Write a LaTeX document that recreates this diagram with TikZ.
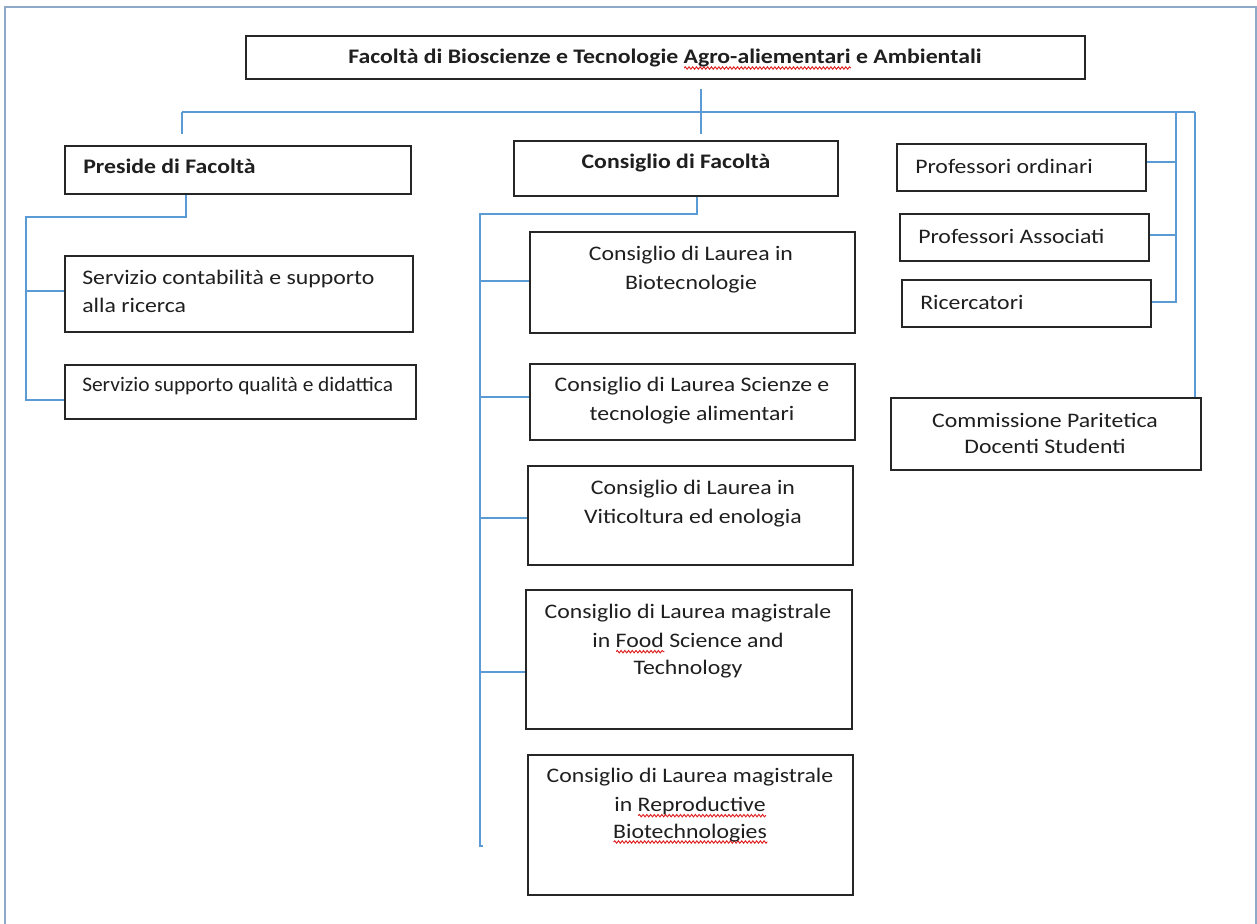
\documentclass[tikz,border=0pt]{standalone}
\usepackage{fontspec}
\setmainfont{Carlito}[FakeStretch=1.15]
\usetikzlibrary{calc,decorations.pathmorphing}

\definecolor{linkblue}{HTML}{5B9BD5}
\definecolor{framegray}{HTML}{8EA9C8}
\definecolor{boxline}{HTML}{262626}
\definecolor{spellred}{HTML}{E02020}

% red wavy underline under a word
\newsavebox\spellbox
\newlength\spellwd
\newcommand\spell[1]{%
  \sbox\spellbox{#1}\setlength\spellwd{\wd\spellbox}%
  \smash{\rlap{\tikz[baseline=0pt]\draw[spellred,line width=0.7pt,decorate,
      decoration={snake,amplitude=0.9pt,segment length=2.8pt}]
      (0pt,-3pt) -- (\spellwd,-3pt);}}%
  \usebox\spellbox}

\begin{document}
\begin{tikzpicture}[x=0.75pt,y=-0.75pt,
  box/.style 2 args={draw=boxline, line width=1.1pt, rectangle, inner sep=0pt,
    minimum width={#1*0.75pt}, minimum height={#2*0.75pt}},
  txt/.style={inner sep=0pt, text=black!88, font=\fontsize{15.5}{21.75}\selectfont},
  ctxt/.style={txt, anchor=base, align=center},
  ltxt/.style={txt, anchor=base west, align=left},
  conn/.style={draw=linkblue, line width=1.1pt},
  frame/.style={draw=framegray, line width=1.6pt}]

% page
\fill[white] (0,0) rectangle (1257,924);
\useasboundingbox (0,0) rectangle (1257,924);
\draw[frame] (5,924) -- (5,7) -- (1256,7) -- (1256,924);

% boxes
\node[box={839}{43}]  (top) at (665.5,57.5) {};
\node[box={346}{48}]  (pres) at (238,170) {};
\node[box={348}{76}]  (sv1) at (239,294) {};
\node[box={351}{54}]  (sv2) at (240.5,392) {};
\node[box={324}{55}]  (cdf) at (676,168.5) {};
\node[box={325}{101}] (c1) at (692.5,282.5) {};
\node[box={325}{76}]  (c2) at (692.5,402) {};
\node[box={325}{99}]  (c3) at (690.5,515.5) {};
\node[box={326}{139}] (c4) at (689,659.5) {};
\node[box={325}{140}] (c5) at (690.5,825) {};
\node[box={249}{47}]  (po) at (1021.5,167.5) {};
\node[box={249}{47}]  (pa) at (1024.5,237.5) {};
\node[box={249}{47}]  (ric) at (1026.5,303.5) {};
\node[box={310}{72}]  (com) at (1046,434) {};

% texts (multi-line texts are placed by the baseline of their last line)
\node[ctxt] (topT) at (665,64) {\bfseries Facoltà di Bioscienze e Tecnologie \spell{Agro-aliementari} e Ambientali};
\node[ltxt] (presT) at (83,173) {\bfseries Preside di Facoltà};
\node[ctxt] (cdfT) at (676,168) {\bfseries Consiglio di Facoltà};
\node[ltxt] (sv1T) at (82,312) {Servizio contabilità e supporto\\[-0.75pt]alla ricerca};
\node[ltxt] (sv2T) at (82,391) {\scalebox{0.9}[1]{Servizio supporto qualità e didattica}};
\node[ctxt] (c1T) at (691,289) {Consiglio di Laurea in\\Biotecnologie};
\node[ctxt] (c2T) at (692,420) {Consiglio di Laurea Scienze e\\tecnologie alimentari};
\node[ctxt] (c3T) at (693,523) {Consiglio di Laurea in\\Viticoltura ed enologia};
\node[ctxt] (c4T) at (688,674) {Consiglio di Laurea magistrale\\in \spell{Food} Science and\\[-2pt]Technology};
\node[ctxt] (c5T) at (690,838) {Consiglio di Laurea magistrale\\in \spell{Reproductive}\\[-2pt]\spell{Biotechnologies}};
\node[ltxt] (poT) at (915,173) {Professori ordinari};
\node[ltxt] (paT) at (918,243) {Professori Associati};
\node[ltxt] (ricT) at (920,309) {Ricercatori};
\node[ctxt] (comT) at (1045,453) {Commissione Paritetica\\[-2.25pt]Docenti Studenti};

% junctions of the connector bus
\coordinate (jtop) at (701,112);
\coordinate (jl) at (182,112);
\coordinate (jr1) at (1176,112);
\coordinate (jr2) at (1195,112);
\coordinate (jp) at (186,217);
\coordinate (jpl) at (26,217);
\coordinate (jc) at (697,214);
\coordinate (jcl) at (480,214);
\coordinate (jcb) at (480,846);

% branch points on box sides
\coordinate (bpo) at ([yshift=4.125pt]po.east);
\coordinate (bpa) at ([yshift=1.875pt]pa.east);
\coordinate (bric) at ([yshift=1.125pt]ric.east);
\coordinate (bs1) at ([yshift=2.25pt]sv1.west);
\coordinate (bs2) at ([yshift=-6pt]sv2.west);
\coordinate (bc1) at ([yshift=1.125pt]c1.west);
\coordinate (bc2) at ([yshift=3.75pt]c2.west);
\coordinate (bc3) at ([yshift=-1.875pt]c3.west);
\coordinate (bc4) at ([yshift=-9.375pt]c4.west);

% main bus
\draw[conn] (jl) -- (jr2);
\draw[conn, shorten <=6.75pt, shorten >=4.5pt] (jtop |- top.south) -- (jtop |- cdf.north);
\draw[conn, shorten >=8.25pt] (jl) -- (jl |- pres.north);
\draw[conn] (jr2) -- (jr2 |- com.north);

% staff
\draw[conn] (jr1) -- (jr1 |- bric) -- (bric);
\draw[conn] (bpo) -- (bpo -| jr1);
\draw[conn] (bpa) -- (bpa -| jr1);

% dean services
\draw[conn] (jp |- pres.south) -- (jp) -- (jpl) -- (jpl |- bs2) -- (bs2);
\draw[conn] (jpl |- bs1) -- (bs1);

% degree councils
\draw[conn] (jc |- cdf.south) -- (jc) -- (jcl) -- (jcb) -- ++(3,0);
\draw[conn] (jcl |- bc1) -- (bc1);
\draw[conn] (jcl |- bc2) -- (bc2);
\draw[conn] (jcl |- bc3) -- (bc3);
\draw[conn] (jcl |- bc4) -- (bc4);
\end{tikzpicture}
\end{document}
